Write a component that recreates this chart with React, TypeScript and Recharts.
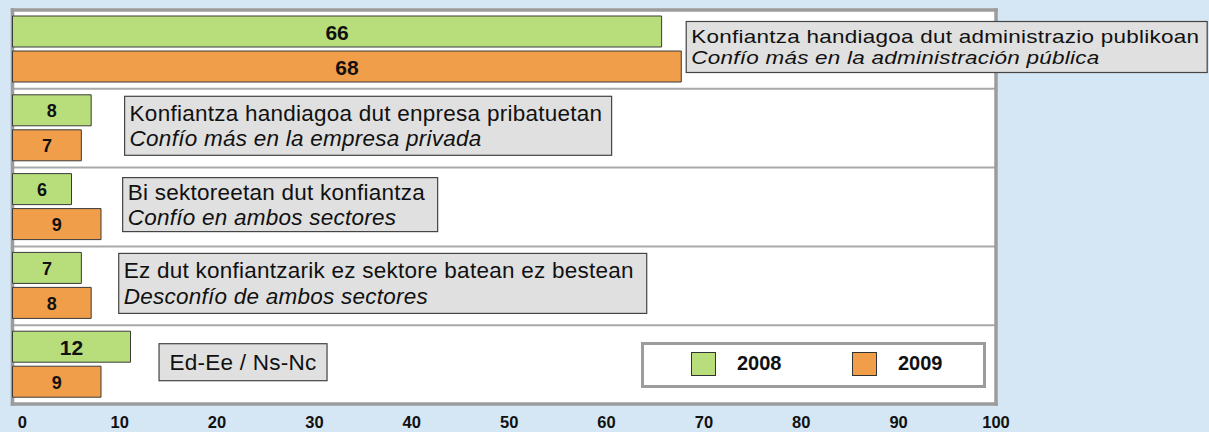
import { BarChart, Bar, XAxis, YAxis, CartesianGrid, LabelList } from "recharts";

// answers (2008 vs 2009 survey)
const categories = ["admin", "empresa", "ambos", "ninguno", "nsnc"];
const basqueLabels = [
  "Konfiantza handiagoa dut administrazio publikoan",
  "Konfiantza handiagoa dut enpresa pribatuetan",
  "Bi sektoreetan dut konfiantza",
  "Ez dut konfiantzarik ez sektore batean ez bestean",
  "Ed-Ee / Ns-Nc",
];
const spanishLabels = [
  "Confío más en la administración pública",
  "Confío más en la empresa privada",
  "Confío en ambos sectores",
  "Desconfío de ambos sectores",
  "",
];
const values2008 = [66, 8, 6, 7, 12];
const values2009 = [68, 7, 9, 8, 9];
const seriesNames = ["2008", "2009"];
const xTicks = [0, 10, 20, 30, 40, 50, 60, 70, 80, 90, 100];

// note boxes: where each one starts (axis units), its size in px
const boxStart = [68.5, 11.4, 11.2, 10.8, 14.9];
const boxSize = [
  [521, 51],
  [487, 59],
  [315, 54],
  [528, 60],
  [168, 37],
];
const boxSquash = [0.83, 1, 1, 1, 1];

const GREEN = "#b8de7c";
const ORANGE = "#f19e4b";
const FONT = "'Liberation Sans', Arial, sans-serif";

const rows = categories.map((cat, i) => ({
  cat,
  y2008: values2008[i],
  y2009: values2009[i],
}));

function ValueLabel(props: any) {
  const vb = props.viewBox ?? props;
  const { x, y, width, height } = vb;
  const v = Number(props.value);
  return (
    <text
      x={x + width / 2}
      y={y + height / 2 + 1}
      textAnchor="middle"
      dominantBaseline="central"
      fontFamily={FONT}
      fontWeight="bold"
      fontSize={v >= 10 ? 21 : 18}
      fill="#111"
    >
      {v}
    </text>
  );
}

function NoteBox(props: any) {
  const vb = props.viewBox ?? props;
  const { x, y, width } = vb;
  const i = categories.indexOf(props.value);
  if (i < 0) return null;
  const unit = width / values2009[i];
  const [w, h] = boxSize[i];
  const left = x + boxStart[i] * unit;
  const cy = y - 4;
  const top = cy - h / 2;
  const two = spanishLabels[i] !== "";
  const sq = boxSquash[i];
  const gap = 25.5;
  const b1 = two ? cy - gap / 2 + 7.8 : cy + 7.8;
  return (
    <g>
      <rect x={left} y={top} width={w} height={h} fill="#e0e0e0" stroke="#444" strokeWidth={1.2} />
      <g transform={`translate(0 ${cy}) scale(1 ${sq}) translate(0 ${-cy})`}>
        <text
          x={two ? left + 5 : left + w / 2}
          y={b1}
          textAnchor={two ? "start" : "middle"}
          fontFamily={FONT}
          fontSize={22.5}
          letterSpacing={0.25}
          fill="#111"
        >
          {basqueLabels[i]}
        </text>
        {two && (
          <text
            x={left + 5}
            y={b1 + gap}
            fontFamily={FONT}
            fontStyle="italic"
            fontSize={22.5}
            letterSpacing={0.25}
            fill="#111"
          >
            {spanishLabels[i]}
          </text>
        )}
      </g>
    </g>
  );
}

function XTick(props: any) {
  const { x, y, payload } = props;
  const v = Number(payload.value);
  return (
    <text
      x={x + 9.8 * (1 - v / 100)}
      y={y + 24}
      textAnchor="middle"
      fontFamily={FONT}
      fontWeight="bold"
      fontSize={16.5}
      fill="#111"
    >
      {payload.value}
    </text>
  );
}

function Legend2() {
  const colors = [GREEN, ORANGE];
  return (
    <div
      style={{
        position: "absolute",
        left: 641,
        top: 342,
        width: 345,
        height: 46,
        boxSizing: "border-box",
        border: "3px solid #9c9c9c",
        background: "#fff",
        fontFamily: FONT,
      }}
    >
      {seriesNames.map((n, i) => (
        <div key={n}>
          <div
            style={{
              position: "absolute",
              left: 47 + i * 161,
              top: 7,
              width: 23,
              height: 22,
              background: colors[i],
              border: "1px solid #333",
            }}
          />
          <div
            style={{
              position: "absolute",
              left: 93 + i * 161,
              top: 6,
              fontSize: 20,
              fontWeight: "bold",
              lineHeight: "24px",
              color: "#111",
            }}
          >
            {n}
          </div>
        </div>
      ))}
    </div>
  );
}

export default function App() {
  return (
    <div
      style={{
        position: "absolute",
        left: 0,
        top: 0,
        width: 1209,
        height: 432,
        background: "#d5e6f4",
        overflow: "hidden",
      }}
    >
      <BarChart
        width={1209}
        height={432}
        layout="vertical"
        data={rows}
        margin={{ top: 10, right: 213, bottom: 0, left: 12.5 }}
        barCategoryGap={6}
        barGap={4}
      >
        <CartesianGrid
          vertical={false}
          fill="#fff"
          fillOpacity={1}
          stroke="#a9a9a9"
          strokeWidth={2}
          horizontalCoordinatesGenerator={({ offset }: any) =>
            [1, 2, 3, 4].map((k) => offset.top + (k * offset.height) / categories.length)
          }
        />
        <CartesianGrid
          stroke="#9c9c9c"
          strokeWidth={3.5}
          strokeLinecap="square"
          horizontalCoordinatesGenerator={({ offset }: any) => [offset.top, offset.top + offset.height]}
          verticalCoordinatesGenerator={({ offset }: any) => [offset.left, offset.left + offset.width]}
        />
        <XAxis
          type="number"
          domain={[0, 100]}
          ticks={xTicks}
          interval={0}
          axisLine={false}
          tickLine={false}
          tickSize={0}
          tickMargin={0}
          height={28}
          tick={<XTick />}
        />
        <YAxis type="category" dataKey="cat" hide />
        <Bar dataKey="y2008" name={seriesNames[0]} fill={GREEN} stroke="#3a3a3a" strokeWidth={1} isAnimationActive={false}>
          <LabelList dataKey="y2008" content={ValueLabel} />
        </Bar>
        <Bar dataKey="y2009" name={seriesNames[1]} fill={ORANGE} stroke="#3a3a3a" strokeWidth={1} isAnimationActive={false}>
          <LabelList dataKey="y2009" content={ValueLabel} />
          <LabelList dataKey="cat" content={NoteBox} />
        </Bar>
      </BarChart>
      <Legend2 />
    </div>
  );
}
